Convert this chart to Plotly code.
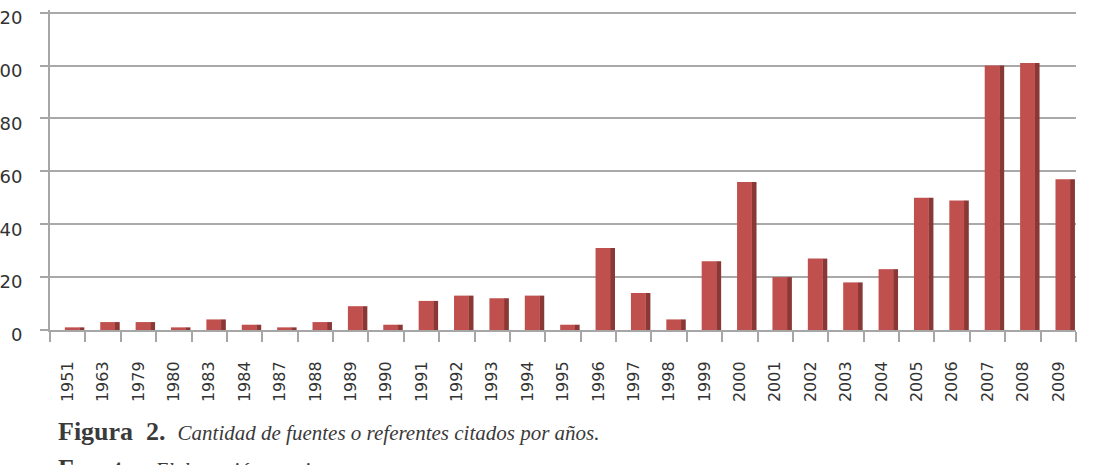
import plotly.graph_objects as go

years = ["1951", "1963", "1979", "1980", "1983", "1984", "1987", "1988", "1989", "1990",
         "1991", "1992", "1993", "1994", "1995", "1996", "1997", "1998", "1999", "2000",
         "2001", "2002", "2003", "2004", "2005", "2006", "2007", "2008", "2009"]
counts = [1, 3, 3, 1, 4, 2, 1, 3, 9, 2,
          11, 13, 12, 13, 2, 31, 14, 4, 26, 56,
          20, 27, 18, 23, 50, 49, 100, 101, 57]
y_ticks = [0, 20, 40, 60, 80, 100, 120]

FRONT = "#C0504D"
SIDE = "#8A3836"

fig = go.Figure()
# side face (depth shading)
fig.add_trace(go.Bar(x=years, y=counts, offset=0.33, width=0.14,
                     marker=dict(color=SIDE, line=dict(width=0)), hoverinfo="skip",
                     showlegend=False))
# front face
fig.add_trace(go.Bar(x=years, y=counts, offset=-0.08, width=0.42,
                     marker=dict(color=FRONT, line=dict(width=0)),
                     showlegend=False))

fig.update_layout(
    width=1098, height=465,
    margin=dict(l=50, r=22, t=10, b=135, autoexpand=False),
    paper_bgcolor="white", plot_bgcolor="white",
    barmode="overlay",
    font=dict(family="DejaVu Sans", color="#333333"),
    xaxis=dict(type="category", showgrid=False, showline=True, linecolor="#A6A6A6",
               linewidth=2, ticks="outside", ticklen=10, tickcolor="#A6A6A6", tickwidth=2,
               tickson="boundaries", tickangle=-90, tickfont=dict(size=16, color="#333333"),
               ticklabelstandoff=23, automargin=False),
    yaxis=dict(range=[0, 121], tickvals=y_ticks, showgrid=True, gridcolor="#A9A9A9",
               gridwidth=2, showline=True, linecolor="#A6A6A6", linewidth=2,
               ticks="outside", ticklen=8, tickcolor="#A6A6A6", tickwidth=2,
               tickfont=dict(size=18, color="#333333"), ticklabelstandoff=14,
               ticklabelshift=5, zeroline=False, automargin=False),
)

fig.add_annotation(
    xref="paper", yref="paper", x=0.006, y=-0.265, xanchor="left", yanchor="top",
    showarrow=False, align="left",
    text="<b><span style='font-size:26px'>Figura  2.</span></b>  <i><span style='font-size:21px'>Cantidad de fuentes o referentes citados por años.</span></i>",
    font=dict(family="Liberation Serif", size=24, color="#3A3A3A"),
)
fig.add_annotation(
    xref="paper", yref="paper", x=0.006, y=-0.38, xanchor="left", yanchor="top",
    showarrow=False, align="left",
    text="<b><span style='font-size:26px'>Fuente:</span></b>  <i><span style='font-size:21px'>Elaboración propia.</span></i>",
    font=dict(family="Liberation Serif", size=24, color="#3A3A3A"),
)

fig.write_html("out.html", config={"displayModeBar": False},
               post_script="document.body.style.margin='0px';document.body.style.overflow='hidden';")
